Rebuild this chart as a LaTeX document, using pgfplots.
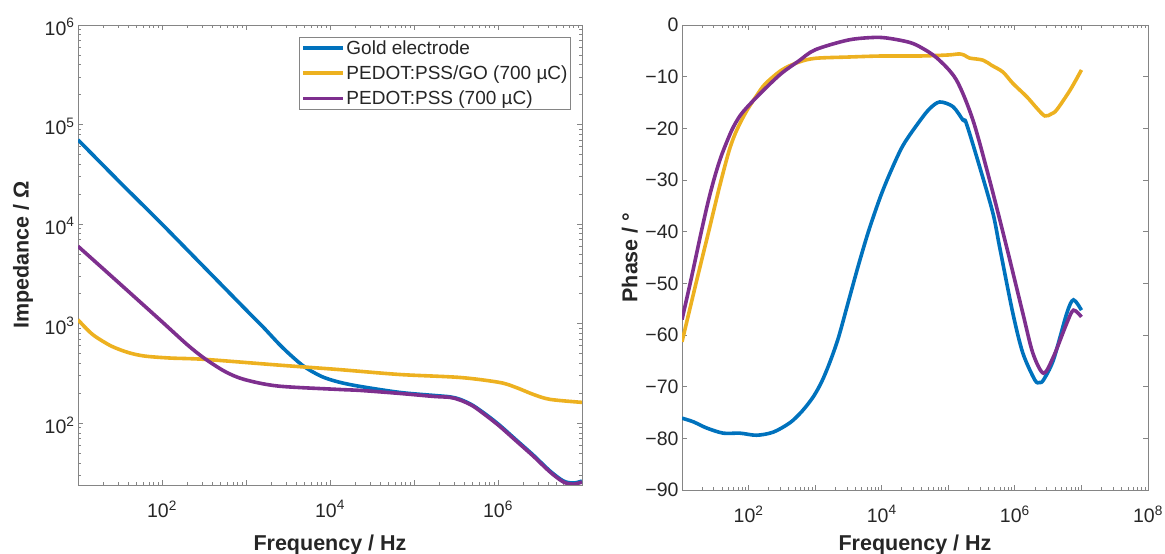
\documentclass[border=0pt]{standalone}
\usepackage{fontspec}
\setmainfont{Liberation Sans}
\usepackage{pgfplots}
\pgfplotsset{compat=1.18}
\definecolor{mblue}{HTML}{0072BD}
\definecolor{morange}{HTML}{EDB120}
\definecolor{mpurple}{HTML}{7E2F8E}
\definecolor{axgray}{HTML}{858585}
\definecolor{txt}{HTML}{262626}
\pgfplotsset{
  mystyle/.style={
    scale only axis,
    axis line style={axgray, line width=0.9bp},
    tick style={axgray, line width=0.8bp},
    major tick length=5bp, minor tick length=3bp,
    tick label style={font=\fontsize{19.5bp}{23bp}\selectfont, text=txt},
    xticklabel style={yshift=-12bp},
    label style={font=\bfseries\fontsize{21.5bp}{25bp}\selectfont, text=txt},
    every axis plot/.append style={line width=3.6bp, smooth},
  }
}
\begin{document}
\begin{tikzpicture}
\useasboundingbox (0,0) rectangle (1165bp,554bp);
% ---------------- Left: impedance ----------------
\begin{axis}[mystyle, at={(78bp,69bp)}, anchor=south west,
  width=504bp, height=460bp,
  xmode=log, ymode=log, xmin=10, xmax=1e7, ymin=24, ymax=1e6,
  xtick={10,100,1000,1e4,1e5,1e6,1e7},
  xticklabels={,10\textsuperscript{2},,10\textsuperscript{4},,10\textsuperscript{6},},
  minor xtick={2e1,3e1,4e1,5e1,6e1,7e1,8e1,9e1,2e2,3e2,4e2,5e2,6e2,7e2,8e2,9e2,2e3,3e3,4e3,5e3,6e3,7e3,8e3,9e3,2e4,3e4,4e4,5e4,6e4,7e4,8e4,9e4,2e5,3e5,4e5,5e5,6e5,7e5,8e5,9e5,2e6,3e6,4e6,5e6,6e6,7e6,8e6,9e6},
  ytick={100,1000,1e4,1e5,1e6},
  yticklabels={10\textsuperscript{2},10\textsuperscript{3},10\textsuperscript{4},10\textsuperscript{5},10\textsuperscript{6}},
  yticklabel style={yshift=-2bp},
  minor ytick={30,40,50,60,70,80,90,2e2,3e2,4e2,5e2,6e2,7e2,8e2,9e2,2e3,3e3,4e3,5e3,6e3,7e3,8e3,9e3,2e4,3e4,4e4,5e4,6e4,7e4,8e4,9e4,2e5,3e5,4e5,5e5,6e5,7e5,8e5,9e5},
  xlabel={Frequency / Hz}, ylabel={Impedance / Ω},
  xlabel style={at={(axis description cs:0.5,-0.130)}, anchor=center},
  ylabel style={at={(axis description cs:-0.109,0.5)}, anchor=center},
  legend style={at={(axis description cs:0.978,0.974)}, anchor=north east,
    draw=axgray, line width=0.8bp, font=\fontsize{19bp}{22bp}\selectfont,
    text=txt, inner sep=1.5bp, row sep=7bp,
    nodes={inner sep=1.5bp}},
  legend cell align=left,
  legend image code/.code={\draw[#1, line width=3.6bp] (0bp,0bp) -- (40bp,0bp);},
]
\addplot[mblue] coordinates {(10,70310)(31.62,26300)(100,10000)(316.2,3715)(1000,1380)(1585,933.3)(2512,616.6)(3548,467.7)(5012,367.3)(7943,295.1)(12590,260)(22910,234.4)(67610,204.2)(169800,190.5)(269200,184.1)(354800,173.8)(501200,151.4)(741300,120.2)(1.047e6,95.5)(1.660e6,67.6)(2.630e6,47.9)(4.169e6,33.1)(6.026e6,26.3)(7.943e6,25.1)(1e7,26.3)};
\addlegendentry{Gold electrode}
\addplot[morange] coordinates {(10,1096)(12.59,891)(15.85,750)(24.95,595.7)(39.81,512.9)(62.23,473.2)(125.9,451.9)(322.1,438.5)(2399,384.6)(12590,346.7)(67610,309)(354800,288.4)(1.047e6,257)(1.660e6,228)(2.630e6,195)(4.169e6,173.8)(1e7,162.2)};
\addlegendentry{PEDOT:PSS/GO (700 µC)}
\addplot[mpurple] coordinates {(10,5998)(31.62,2512)(100,1047)(199.5,616.6)(316.2,451.9)(562.3,331.1)(955,275.4)(2399,236.6)(12590,218.8)(22910,213.8)(67610,199.5)(169800,186.2)(269200,182)(354800,171)(501200,149.3)(741300,117.5)(1.047e6,93.3)(1.660e6,66.1)(2.630e6,46.8)(4.169e6,32.4)(6.026e6,25.7)(7.943e6,24.5)(1e7,25.7)};
\addlegendentry{PEDOT:PSS (700 µC)}
\end{axis}
% ---------------- Right: phase ----------------
\begin{axis}[mystyle, at={(682bp,64bp)}, anchor=south west,
  width=466bp, height=465bp,
  xmode=log, xmin=10, xmax=1e8, ymin=-90, ymax=0,
  xtick={10,100,1000,1e4,1e5,1e6,1e7,1e8},
  xticklabels={,10\textsuperscript{2},,10\textsuperscript{4},,10\textsuperscript{6},,10\textsuperscript{8}},
  minor xtick={2e1,3e1,4e1,5e1,6e1,7e1,8e1,9e1,2e2,3e2,4e2,5e2,6e2,7e2,8e2,9e2,2e3,3e3,4e3,5e3,6e3,7e3,8e3,9e3,2e4,3e4,4e4,5e4,6e4,7e4,8e4,9e4,2e5,3e5,4e5,5e5,6e5,7e5,8e5,9e5,2e6,3e6,4e6,5e6,6e6,7e6,8e6,9e6,2e7,3e7,4e7,5e7,6e7,7e7,8e7,9e7},
  ytick={-90,-80,-70,-60,-50,-40,-30,-20,-10,0},
  yticklabels={−90,−80,−70,−60,−50,−40,−30,−20,−10,0},
  xlabel={Frequency / Hz}, ylabel={Phase / °},
  xlabel style={at={(axis description cs:0.5,-0.118)}, anchor=center},
  ylabel style={at={(axis description cs:-0.112,0.5)}, anchor=center},
]
\addplot[mblue] coordinates {(10,-76.1)(14.79,-76.8)(23.44,-78.0)(41.69,-79.0)(74.13,-79.0)(131.8,-79.4)(234.4,-78.8)(416.9,-77.0)(631,-74.8)(933.3,-72.0)(1259,-69.0)(1660,-65.3)(2239,-60.5)(3162,-53.5)(4467,-46.5)(6310,-40.0)(9333,-33.6)(13180,-28.8)(20890,-23.3)(37150,-18.6)(52480,-16.2)(74130,-14.9)(117500,-15.8)(166000,-18.4)(186200,-19.0)(295100,-27.4)(467700,-36.4)(588800,-42.9)(933300,-55.8)(1.318e6,-63.5)(1.995e6,-68.7)(2.344e6,-69.2)(2.692e6,-68.7)(3.802e6,-64.8)(6.026e6,-55.8)(7.586e6,-53.2)(1e7,-55.2)};
\addplot[morange] coordinates {(10,-61.3)(16.22,-50)(25.12,-40)(35.48,-32)(44.67,-27)(52.48,-23.8)(63.10,-21.0)(79.43,-18.3)(100,-16.0)(134.9,-13.5)(177.8,-11.4)(316.2,-8.7)(562.3,-7.2)(1000,-6.45)(3162,-6.2)(10000,-6.0)(37150,-6.0)(1e5,-5.8)(147900,-5.6)(177800,-5.9)(208900,-6.4)(331100,-6.8)(446700,-7.8)(660700,-9.1)(933300,-11.3)(1.514e6,-13.9)(2.138e6,-16.1)(2.818e6,-17.6)(3.548e6,-17.2)(4.266e6,-16.4)(6.761e6,-12.6)(1e7,-8.7)};
\addplot[mpurple] coordinates {(10,-57)(13.80,-49)(19.50,-40)(25.12,-33.8)(31.62,-29.0)(39.81,-25.0)(56.23,-20.3)(74.13,-17.6)(100,-15.6)(177.8,-12.3)(316.2,-9.3)(562.3,-7.0)(1000,-4.8)(3162,-2.9)(7943,-2.4)(13180,-2.6)(25120,-3.3)(37150,-4.2)(67610,-6.4)(131800,-10.6)(234400,-18.4)(416900,-30)(749900,-42.9)(1.318e6,-55.8)(1.862e6,-63.5)(2.692e6,-67.4)(3.802e6,-64.2)(6.026e6,-57.7)(7.586e6,-55.2)(1e7,-56.5)};
\end{axis}
\end{tikzpicture}
\end{document}
